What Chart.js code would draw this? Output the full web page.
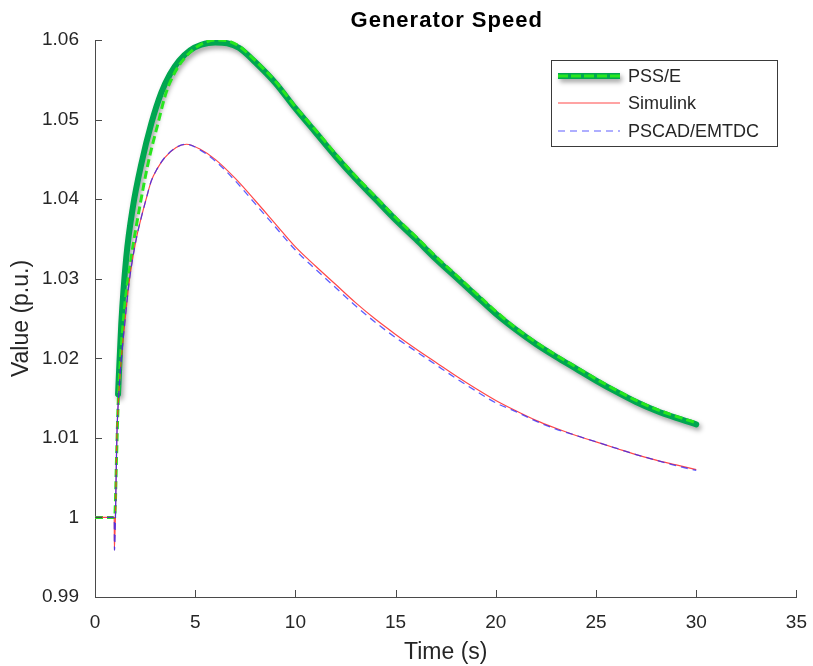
<!DOCTYPE html>
<html>
<head>
<meta charset="utf-8">
<script src="https://cdn.jsdelivr.net/npm/chart.js@4/dist/chart.umd.min.js"></script>
<style>
html,body{margin:0;padding:0;background:#fff;}
#wrap{width:813px;height:666px;}
</style>
</head>
<body>
<div id="wrap"><canvas id="c" width="813" height="666"></canvas></div>
<script>
// ---- data ----
const chartTitle = "Generator Speed";
const xAxisTitle = "Time (s)";
const yAxisTitle = "Value (p.u.)";
const seriesNames = ["PSS/E", "Simulink", "PSCAD/EMTDC"];

// PSS/E (thick solid trace)
const pssTime  = [1.15, 1.31, 1.56, 1.89, 2.31, 2.81, 3.31, 3.74, 4.2, 4.74, 5.3, 6.0, 6.6, 7.2, 8, 9, 10, 11, 12, 13, 14, 15, 16, 17, 18, 19, 20, 21, 22, 23, 24, 25, 26, 27, 28, 29, 30];
const pssValue = [1.0155, 1.0243, 1.0327, 1.0390, 1.0444, 1.0495, 1.0534, 1.0557, 1.0574, 1.0587, 1.0594, 1.0597, 1.0596, 1.0590, 1.0572, 1.0546, 1.0514, 1.0484, 1.0454, 1.0426, 1.0400, 1.0374, 1.0350, 1.0325, 1.0302, 1.0279, 1.0256, 1.0236, 1.0218, 1.0202, 1.0187, 1.0172, 1.0158, 1.0145, 1.0134, 1.0125, 1.0117];

// PSS/E (bright dashed trace drawn over it)
const pssDashTime  = [0, 0.98, 1.08, 1.15, 1.4, 1.81, 2.23, 2.64, 3.14, 3.55, 4.0, 4.5, 5.0, 5.5, 6.0, 6.6, 7.2, 8, 9, 10, 11, 12, 13, 14, 15, 16, 17, 18, 19, 20, 21, 22, 23, 24, 25, 26, 27, 28, 29, 30];
const pssDashValue = [1.0, 1.0, 1.0080, 1.0139, 1.0243, 1.0327, 1.0390, 1.0444, 1.0495, 1.0534, 1.0560, 1.0578, 1.0590, 1.0597, 1.0600, 1.0599, 1.0592, 1.0574, 1.0548, 1.0516, 1.0487, 1.0457, 1.0429, 1.0403, 1.0377, 1.0353, 1.0328, 1.0305, 1.0282, 1.0259, 1.0238, 1.0220, 1.0204, 1.0189, 1.0174, 1.0160, 1.0147, 1.0136, 1.0127, 1.0119];

// Simulink
const simTime  = [0, 0.96, 0.97, 1.1, 1.2, 1.3, 1.48, 1.7, 1.89, 2.1, 2.31, 2.55, 2.81, 3.1, 3.47, 4.05, 4.57, 5.23, 6, 7, 8, 9, 10, 11, 12, 13, 14, 15, 16, 17, 18, 19, 20, 21, 22, 23, 24, 25, 26, 27, 28, 29, 30];
const simValue = [1.0, 1.0, 0.9959, 1.0110, 1.0160, 1.0195, 1.0243, 1.0295, 1.0327, 1.0355, 1.0377, 1.0400, 1.0423, 1.0438, 1.0452, 1.0465, 1.0469, 1.0463, 1.0450, 1.0426, 1.0398, 1.0369, 1.0340, 1.0316, 1.0293, 1.0270, 1.0249, 1.0230, 1.0212, 1.0195, 1.0178, 1.0162, 1.0147, 1.0134, 1.0122, 1.0112, 1.0103, 1.0095, 1.0087, 1.0079, 1.0072, 1.0066, 1.0060];

// PSCAD/EMTDC
const pscadTime  = [0, 0.96, 0.97, 1.1, 1.2, 1.3, 1.48, 1.7, 1.89, 2.1, 2.31, 2.55, 2.81, 3.1, 3.47, 4.05, 4.57, 5.23, 6, 7, 8, 9, 10, 11, 12, 13, 14, 15, 16, 17, 18, 19, 20, 21, 22, 23, 24, 25, 26, 27, 28, 29, 30];
const pscadValue = [1.0, 1.0, 0.9959, 1.0110, 1.0160, 1.0195, 1.0243, 1.0295, 1.0327, 1.0355, 1.0377, 1.0400, 1.0423, 1.0438, 1.0452, 1.0465, 1.0469, 1.0462, 1.0448, 1.0423, 1.0394, 1.0365, 1.0336, 1.0312, 1.0289, 1.0266, 1.0245, 1.0226, 1.0209, 1.0192, 1.0175, 1.0159, 1.0144, 1.0133, 1.0121, 1.0111, 1.0103, 1.0095, 1.0087, 1.0079, 1.0072, 1.0065, 1.0059];

const xMin = 0, xMax = 35, xStep = 5;
const yMin = 0.99, yMax = 1.06, yStep = 0.01;

// ---- styles ----
const FONT = "'Liberation Sans', Arial, Helvetica, sans-serif";
const TEXT = '#262626';
const AXIS = '#4a4a4a';
const C_PSS = 'rgb(0,166,80)';
const C_PSS_DASH = 'rgb(40,230,30)';
const C_SIM = 'rgba(255,40,40,0.85)';
const C_PSCAD = 'rgba(40,40,255,0.75)';

function pts(t, v) { return t.map((x, i) => ({x: x, y: v[i]})); }

const shadowPlugin = {
  id: 'shadow',
  beforeDatasetDraw(chart, args) {
    const ds = chart.data.datasets[args.index];
    if (ds.shadow) {
      const ctx = chart.ctx;
      ctx.save();
      ctx.shadowColor = 'rgba(0,0,0,0.38)';
      ctx.shadowBlur = 5;
      ctx.shadowOffsetX = 2;
      ctx.shadowOffsetY = 3;
    }
  },
  afterDatasetDraw(chart, args) {
    const ds = chart.data.datasets[args.index];
    if (ds.shadow) chart.ctx.restore();
  }
};

const decorPlugin = {
  id: 'decor',
  afterDraw(chart) {
    const ctx = chart.ctx;
    const a = chart.chartArea;
    const xs = chart.scales.x, ys = chart.scales.y;
    ctx.save();
    // inward tick marks
    ctx.strokeStyle = AXIS;
    ctx.lineWidth = 1;
    ctx.beginPath();
    xs.ticks.forEach(t => {
      const px = Math.round(xs.getPixelForValue(t.value)) + 0.5;
      ctx.moveTo(px, a.bottom);
      ctx.lineTo(px, a.bottom - 7);
    });
    ys.ticks.forEach(t => {
      const py = Math.round(ys.getPixelForValue(t.value)) + 0.5;
      ctx.moveTo(a.left, py);
      ctx.lineTo(a.left + 7, py);
    });
    ctx.stroke();

    // title
    ctx.fillStyle = '#000';
    ctx.font = 'bold 22px ' + FONT;
    ctx.textAlign = 'center';
    ctx.textBaseline = 'middle';
    try { ctx.letterSpacing = '1px'; } catch (e) {}
    ctx.fillText(chartTitle, (a.left + a.right) / 2 + 1, 21);
    try { ctx.letterSpacing = '0px'; } catch (e) {}

    // legend
    const lx = 551.5, ly = 60.5, lw = 226, lh = 86;
    ctx.fillStyle = '#fff';
    ctx.fillRect(lx, ly, lw, lh);
    ctx.strokeStyle = '#3a3a3a';
    ctx.lineWidth = 1;
    ctx.strokeRect(lx, ly, lw, lh);
    const rows = [76, 103, 131];
    const x0 = 558, x1 = 620;
    // PSS/E sample
    ctx.save();
    ctx.shadowColor = 'rgba(0,0,0,0.38)';
    ctx.shadowBlur = 5; ctx.shadowOffsetX = 2; ctx.shadowOffsetY = 3;
    ctx.strokeStyle = C_PSS; ctx.lineWidth = 6;
    ctx.beginPath(); ctx.moveTo(x0, rows[0]); ctx.lineTo(x1, rows[0]); ctx.stroke();
    ctx.restore();
    ctx.strokeStyle = C_PSS_DASH; ctx.lineWidth = 3; ctx.setLineDash([10, 3]);
    ctx.beginPath(); ctx.moveTo(x0, rows[0]); ctx.lineTo(x1, rows[0]); ctx.stroke();
    // Simulink sample
    ctx.setLineDash([]);
    ctx.strokeStyle = C_SIM; ctx.lineWidth = 1.2;
    ctx.beginPath(); ctx.moveTo(x0, rows[1]); ctx.lineTo(x1, rows[1]); ctx.stroke();
    // PSCAD sample
    ctx.setLineDash([7, 5]);
    ctx.strokeStyle = C_PSCAD; ctx.lineWidth = 1.2;
    ctx.beginPath(); ctx.moveTo(x0, rows[2]); ctx.lineTo(x1, rows[2]); ctx.stroke();
    ctx.setLineDash([]);
    ctx.fillStyle = TEXT;
    ctx.font = '18px ' + FONT;
    ctx.textAlign = 'left';
    ctx.textBaseline = 'middle';
    seriesNames.forEach((n, i) => ctx.fillText(n, 628, rows[i] + 1));
    ctx.restore();
  }
};

new Chart(document.getElementById('c'), {
  type: 'line',
  data: {
    datasets: [
      { label: seriesNames[0], data: pts(pssTime, pssValue), borderColor: C_PSS, borderWidth: 6, pointRadius: 0, cubicInterpolationMode: 'monotone', order: 4, shadow: true, borderCapStyle: 'round', borderJoinStyle: 'round' },
      { label: seriesNames[0] + ' (dash)', data: pts(pssDashTime, pssDashValue), borderColor: C_PSS_DASH, borderWidth: 3, borderDash: [8, 4], pointRadius: 0, cubicInterpolationMode: 'monotone', order: 3 },
      { label: seriesNames[1], data: pts(simTime, simValue), borderColor: C_SIM, borderWidth: 1.2, pointRadius: 0, cubicInterpolationMode: 'monotone', order: 2 },
      { label: seriesNames[2], data: pts(pscadTime, pscadValue), borderColor: C_PSCAD, borderWidth: 1.3, borderDash: [7, 5], pointRadius: 0, cubicInterpolationMode: 'monotone', order: 1 }
    ]
  },
  options: {
    responsive: false,
    animation: false,
    devicePixelRatio: 1,
    parsing: false,
    layout: { padding: { top: 40, right: 16, left: 0, bottom: 0 } },
    plugins: { legend: { display: false }, title: { display: false }, tooltip: { enabled: false } },
    scales: {
      x: {
        type: 'linear', min: xMin, max: xMax,
        grid: { display: false },
        border: { display: true, color: AXIS, width: 1 },
        ticks: { stepSize: xStep, color: TEXT, font: { family: FONT, size: 19 }, padding: 6, maxRotation: 0 },
        title: { display: true, text: xAxisTitle, color: TEXT, font: { family: FONT, size: 23, lineHeight: 1.2 }, padding: { top: 0, bottom: 0 } },
        afterFit(s) { s.height = 69; }
      },
      y: {
        type: 'linear', min: yMin, max: yMax,
        grid: { display: false },
        border: { display: true, color: AXIS, width: 1 },
        ticks: { stepSize: yStep, color: TEXT, font: { family: FONT, size: 19 }, padding: 8,
                 callback: v => String(Number(v.toFixed(2))) },
        title: { display: true, text: yAxisTitle, color: TEXT, font: { family: FONT, size: 23, lineHeight: 1.2 }, padding: { top: 8, bottom: 0 } },
        afterFit(s) { s.width = 95; }
      }
    }
  },
  plugins: [shadowPlugin, decorPlugin]
});
</script>
</body>
</html>
